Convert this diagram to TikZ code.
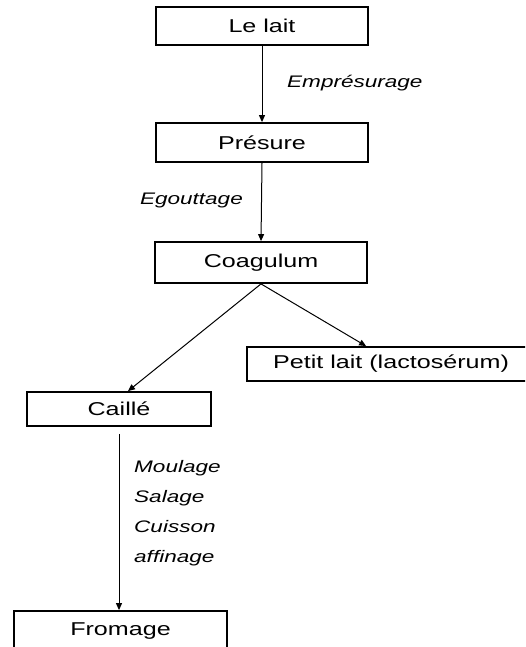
\documentclass[tikz,border=0pt]{standalone}
\usepackage{fontspec}
\setmainfont{Liberation Sans}
\newfontfamily\stretchfont[FakeStretch=1.35]{Liberation Sans}
\usetikzlibrary{arrows.meta,calc}
\tikzset{
  box/.style={draw, line width=1.8pt, inner sep=0pt, font=\stretchfont\fontsize{18.6}{22}\selectfont},
  lab/.style={inner sep=0pt, font=\stretchfont\itshape\fontsize{16.7}{30}\selectfont},
  arr/.style={line width=1pt, -{Triangle[length=7pt,width=6pt]}}
}
\begin{document}
\begin{tikzpicture}[x=1pt,y=-1pt]
\useasboundingbox (0,0) rectangle (525,647);
\fill[white] (0,0) rectangle (525,647);
\clip (0,0) rectangle (525,647);
\node[box, minimum width=212pt, minimum height=38pt] (lait) at (262,26) {Le lait};
\node[box, minimum width=212pt, minimum height=39pt] (pres) at (262,142.5) {Présure};
\node[box, minimum width=212pt, minimum height=41pt] (coag) at (261,262.5) {Coagulum};
\node[box, minimum width=288pt, minimum height=34pt] (petit) at (391,364) {Petit lait (lactosérum)};
\node[box, minimum width=184pt, minimum height=34pt] (caille) at (119,409) {Caillé};
\node[box, minimum width=213pt, minimum height=40pt] (from) at (120.5,631) {Fromage};
\node[lab, anchor=west] (emp) at (287,83) {Empr\'esurage};
\node[lab, anchor=east] (ego) at (243,200) {Egouttage};
\node[lab, anchor=west, align=left] (steps) at (134,513) {Moulage\\Salage\\Cuisson\\affinage};
\draw[arr] (lait.south) -- (pres.north);
\draw[arr] (pres.south) -- (coag.north);
\draw[arr] (coag.south) -- ($(caille.north)+(9,0)$);
\draw[arr] (coag.south) -- ($(petit.north west)+(120,0)$);
\draw[arr, shorten <=7pt] (caille.south) -- (caille.south |- from.north);
\end{tikzpicture}
\end{document}
